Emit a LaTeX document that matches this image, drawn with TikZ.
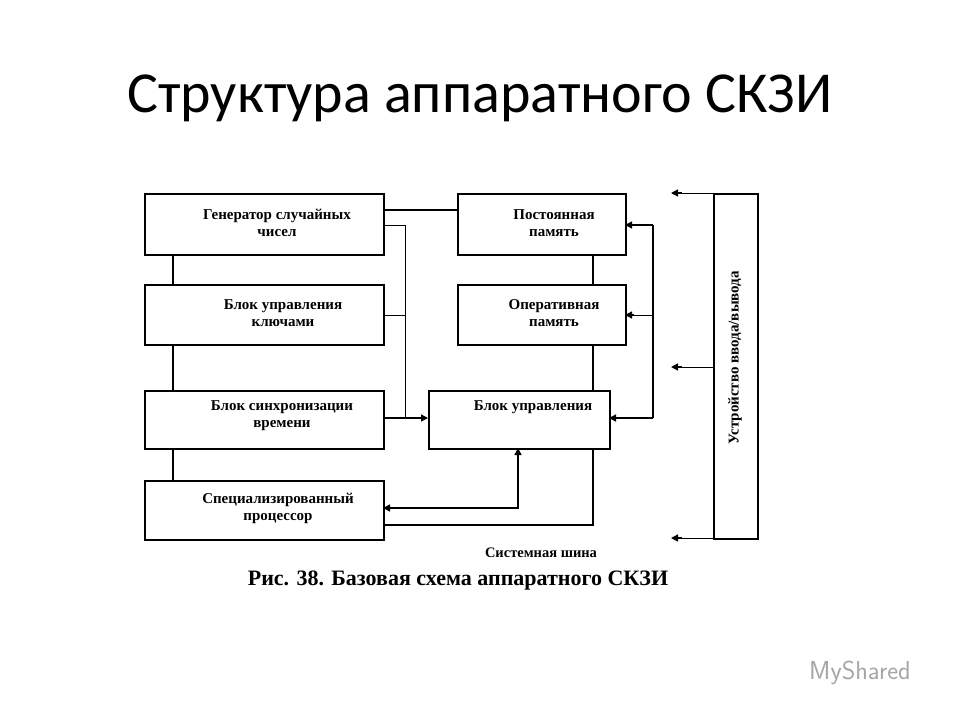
\documentclass[tikz,border=0pt]{standalone}
\usepackage{fontspec}
\setmainfont{Liberation Serif}
\newfontfamily\titlefont{Carlito}
\usetikzlibrary{arrows.meta}
\begin{document}
\begin{tikzpicture}[x=1pt,y=-1pt,
  blk/.style={draw,line width=1.6pt,anchor=north west,inner sep=0pt},
  lbl/.style={font=\bfseries\fontsize{15}{17}\selectfont,align=center},
  ln/.style={line width=1.4pt},
  thin/.style={line width=0.7pt},
  arr/.style={-{Triangle[length=7pt,width=7pt]}}]
\useasboundingbox[fill=white] (0,0) rectangle (960,720);
\node[font=\titlefont\fontsize{58}{64}\selectfont] (title) at (480,98) {Структура аппаратного СКЗИ};
\node[blk,minimum width=239pt,minimum height=61pt] (gen) at (144,193) {};
\node[lbl] (tgen) at (277,223) {Генератор случайных\\чисел};
\node[blk,minimum width=239pt,minimum height=60pt] (buk) at (144,284) {};
\node[lbl] (tbuk) at (283,313) {Блок управления\\ключами};
\node[blk,minimum width=239pt,minimum height=58pt] (syn) at (144,390) {};
\node[lbl] (tsyn) at (282,416) {Блок синхронизации\\времени};
\node[blk,minimum width=239pt,minimum height=59pt] (proc) at (144,480) {};
\node[lbl] (tproc) at (278,508) {Специализированный\\процессор};
\node[blk,minimum width=168pt,minimum height=61pt] (pzu) at (457,193) {};
\node[lbl] (tpzu) at (554,223) {Постоянная\\память};
\node[blk,minimum width=168pt,minimum height=60pt] (ozu) at (457,284) {};
\node[lbl] (tozu) at (554,313) {Оперативная\\память};
\node[blk,minimum width=181pt,minimum height=58pt] (bu) at (428,390) {};
\node[lbl] (tbu) at (533,407) {Блок управления};
\node[blk,minimum width=44pt,minimum height=345pt] (io) at (713,193) {};
\node[rotate=90,font=\bfseries\fontsize{15}{16}\selectfont] (tio) at (735,358) {Устройство ввода/вывода};
\node[font=\bfseries\fontsize{14.5}{16}\selectfont] (bus) at (541,553) {Системная шина};
\node[font=\bfseries\fontsize{22}{24}\selectfont] (cap) at (458,581) {Рис. 38. Базовая схема аппаратного СКЗИ};
\node[font=\sffamily\fontsize{26}{28}\selectfont,text=gray!70] (logo) at (860,673) {MyShared};
\draw[ln] (173,254) -- (173,284);
\draw[ln] (173,344) -- (173,390);
\draw[ln] (173,448) -- (173,480);
\draw[ln] (593,254) -- (593,284);
\draw[ln] (593,344) -- (593,390);
\draw[ln] (593,448) -- (593,525) -- (383,525);
\draw[ln] (383,210) -- (457,210);
\draw[thin] (383,225) -- (405,225) -- (405,418);
\draw[thin] (383,315) -- (405,315);
\draw[ln,arr] (383,418) -- (428,418);
\draw[ln,{Triangle[length=7pt,width=7pt]}-{Triangle[length=7pt,width=7pt]}] (383,508) -- (518,508) -- (518,448);
\draw[ln] (653,225) -- (653,418);
\draw[ln,arr] (653,225) -- (625,225);
\draw[thin] (653,315) -- (632,315);
\draw[ln,arr] (634,315) -- (625,315);
\draw[ln,arr] (653,418) -- (609,418);
\foreach \yy in {193,367,538}{
  \draw[thin] (713,\yy) -- (680,\yy);
  \draw[ln,arr] (682,\yy) -- (671,\yy);
}
\end{tikzpicture}
\end{document}
